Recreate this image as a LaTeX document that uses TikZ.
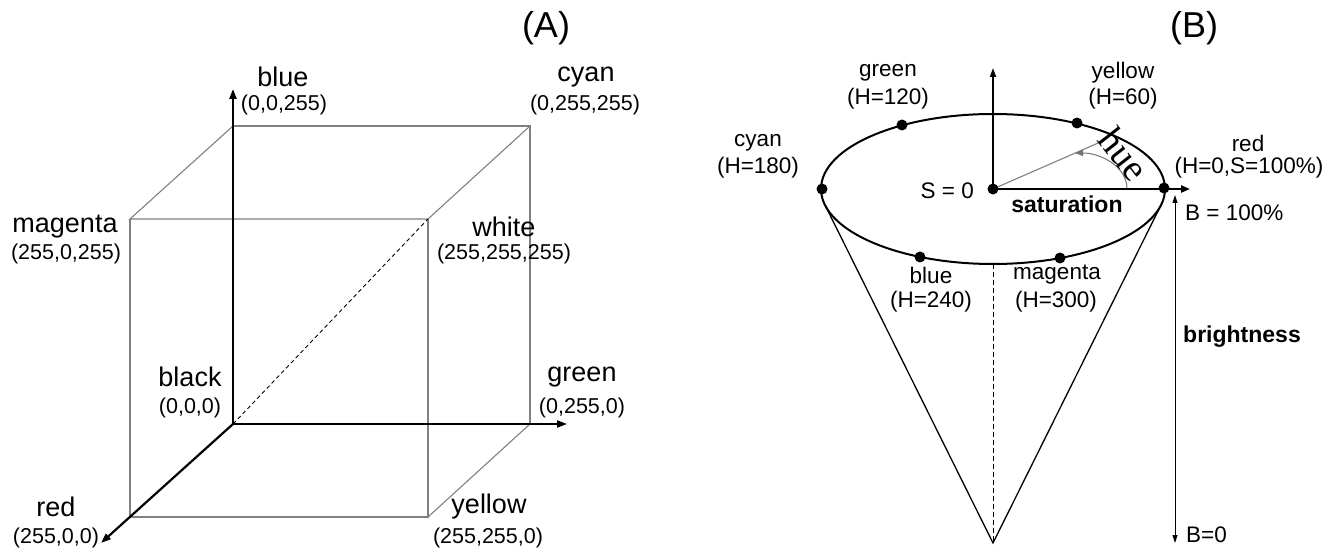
\documentclass[tikz,border=0pt]{standalone}
\usepackage{fontspec}
\setmainfont{Liberation Sans}
\newfontfamily\seriffont{Liberation Serif}
\usetikzlibrary{arrows.meta}

\begin{document}
\begin{tikzpicture}[x=1pt,y=-1pt,
  axis/.style={line width=2.2pt,-{Triangle[length=10pt,width=7pt]}},
  edge/.style={line width=1.1pt,draw=black!50},
  cname/.style={inner sep=0pt,font=\fontsize{27}{27}\selectfont},
  rgb/.style={inner sep=0pt,font=\fontsize{21.5}{21.5}\selectfont},
  lbl/.style={inner sep=0pt,font=\fontsize{22.5}{22.5}\selectfont},
  boldlbl/.style={inner sep=0pt,font=\fontsize{23}{23}\selectfont\bfseries},
  panel/.style={inner sep=0pt,font=\fontsize{36}{36}\selectfont},
  dot/.style={circle,fill=black,inner sep=0pt,minimum size=11pt},
]
\useasboundingbox (0,0) rectangle (1342,553);

% ---------------- (A) RGB cube ----------------
\coordinate (O)  at (233,424);  % black
\coordinate (Bt) at (233,89);   % blue axis tip
\coordinate (Gt) at (567,424);  % green axis tip
\coordinate (Rt) at (101,543);  % red axis tip
\coordinate (Kb) at (233,126);  % blue corner
\coordinate (Cy) at (530,126);  % cyan corner
\coordinate (Gc) at (530,424);  % green corner
\coordinate (Mg) at (130,219);  % magenta corner
\coordinate (Wh) at (428,219);  % white corner
\coordinate (Rc) at (130,517);  % red corner
\coordinate (Ye) at (428,517);  % yellow corner

\draw[edge] (Kb) -- (Cy) -- (Gc);
\draw[edge] (Kb) -- (Mg) -- (Wh) -- (Cy);
\draw[edge] (Mg) -- (Rc) -- (Ye) -- (Wh);
\draw[edge] (Ye) -- (Gc);
\draw[line width=0.9pt,dash pattern=on 4pt off 3pt] (O) -- (Wh);

\draw[axis] (O) -- (Bt);
\draw[axis] (O) -- (Gt);
\draw[axis] (O) -- (Rt);

\node[panel] (labA) at (546,28) {(A)};
\node[cname] (nBlue) at (283,77) {blue};
\node[rgb]   (vBlue) at (284,105) {(0,0,255)};
\node[cname] (nCyan) at (586,77) {cyan};
\node[rgb]   (vCyan) at (585,105) {(0,255,255)};
\node[cname] (nMag)  at (65,227) {magenta};
\node[rgb]   (vMag)  at (66,254) {(255,0,255)};
\node[cname] (nWhite) at (504,227) {white};
\node[rgb]   (vWhite) at (504,254) {(255,255,255)};
\node[cname] (nBlack) at (190,377) {black};
\node[rgb]   (vBlack) at (190,408) {(0,0,0)};
\node[cname] (nGreen) at (582,377) {green};
\node[rgb]   (vGreen) at (582,408) {(0,255,0)};
\node[cname] (nRed) at (56,507) {red};
\node[rgb]   (vRed) at (56,538) {(255,0,0)};
\node[cname] (nYel) at (489,507) {yellow};
\node[rgb]   (vYel) at (488,538) {(255,255,0)};

% ---------------- (B) HSB cone ----------------
\coordinate (C)    at (993,189);   % S = 0
\coordinate (Vt)   at (993,68);    % vertical axis tip
\coordinate (Apex) at (993,543);
\coordinate (Eb)   at (993,264);   % bottom of rim
\coordinate (TL)   at (825,205);   % left tangent
\coordinate (TR)   at (1161,205);  % right tangent
\coordinate (St)   at (1190,189);  % saturation tip
\coordinate (Hr)   at (1105,140);  % hue ray end
\coordinate (Ha)   at (1127,189);  % hue arc start
\coordinate (He)   at (1075,153);  % hue arc end
\coordinate (Btop) at (1175,195);
\coordinate (Bbot) at (1175,543);

\draw[line width=1.3pt] (TL) -- (Apex) -- (TR);
\draw[line width=1pt,dash pattern=on 5pt off 3pt] (Eb) -- (Apex);
\draw[line width=2pt] (C) ellipse [x radius=172pt, y radius=75pt];
\draw[line width=1.8pt,-{Triangle[length=9pt,width=6pt]}] (C) -- (Vt);
\draw[line width=1.1pt,draw=black!50] (C) -- (Hr);
\draw[line width=1pt,draw=black!55,-{Triangle[length=8pt,width=6pt]}]
  (Ha) .. controls (1127,166) and (1100,153) .. (He);
\draw[line width=2.2pt,-{Triangle[length=9pt,width=7pt]}] (C) -- (St);
\draw[line width=0.9pt,{Triangle[length=8pt,width=5pt]}-{Triangle[length=8pt,width=5pt]}] (Btop) -- (Bbot);

\node[dot] (dS)   at (C) {};
\node[dot] (dRed) at (1164,188) {};
\node[dot] (dYel) at (1077,123) {};
\node[dot] (dGrn) at (902,125) {};
\node[dot] (dCyn) at (822,189) {};
\node[dot] (dBlu) at (920,257) {};
\node[dot] (dMag) at (1060,258) {};

\node[panel] (labB) at (1194,28) {(B)};
\node[lbl] (tGreen) at (888,73) {green};
\node[lbl] (hGreen) at (888,99) {(H=120)};
\node[lbl] (tYel) at (1123,73) {yellow};
\node[lbl] (hYel) at (1123,99) {(H=60)};
\node[lbl] (tCyan) at (758,143) {cyan};
\node[lbl] (hCyan) at (758,168) {(H=180)};
\node[lbl] (tRed) at (1248,143) {red};
\node[lbl] (hRed) at (1249,168) {(H=0,S=100\%)};
\node[lbl,anchor=east] (tS0) at (974,191) {S = 0};
\node[boldlbl] (tSat) at (1067,204) {saturation};
\node[lbl,anchor=west] (tB100) at (1185,213) {B = 100\%};
\node[boldlbl,anchor=west] (tBright) at (1183,337) {brightness};
\node[lbl,anchor=west] (tB0) at (1186,535) {B=0};
\node[lbl] (tBlue) at (931,275) {blue};
\node[lbl] (hBlue) at (931,302) {(H=240)};
\node[lbl] (tMag) at (1057,275) {magenta};
\node[lbl] (hMag) at (1056,302) {(H=300)};
\node[inner sep=0pt,rotate=-52,font=\seriffont\fontsize{38}{38}\selectfont] (tHue) at (1124,154) {hue};
\end{tikzpicture}
\end{document}
